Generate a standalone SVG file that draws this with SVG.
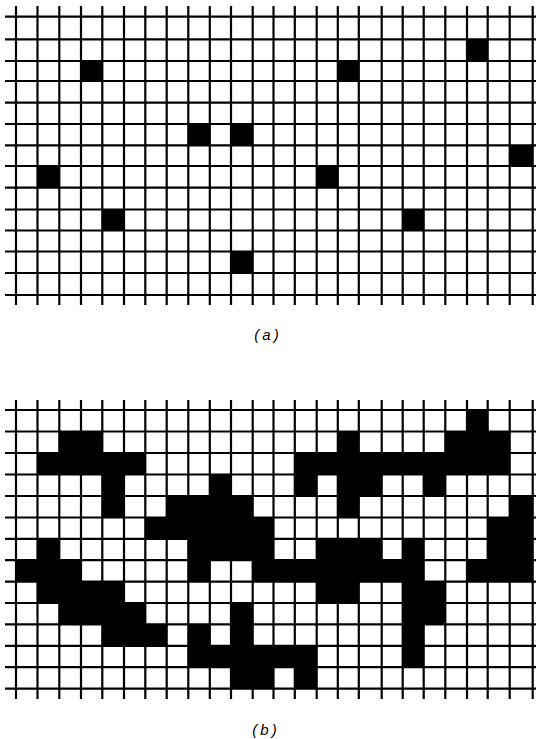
<svg xmlns="http://www.w3.org/2000/svg" width="536" height="739" viewBox="0 0 536 739">
<style>
.g line{stroke:#000;stroke-width:2.2}
.c{fill:#000}
.lbl{font-family:"Liberation Sans",Arial,sans-serif;font-style:italic;font-size:15px;fill:#000;text-anchor:middle;letter-spacing:3px}
</style>
<rect width="536" height="739" fill="#fff"/>
<defs>
<g id="vlines">
<line x1="16" y1="0" x2="16" y2="1"/>
</g>
</defs>

<g id="gridA">
<g id="cellsA" class="c">
<rect x="81" y="61" width="21.3" height="20"/>
<rect x="188.3" y="124" width="21.5" height="21.3"/>
<rect x="231" y="124" width="21.7" height="21.3"/>
<rect x="467" y="39.3" width="20.7" height="21.7"/>
<rect x="337.8" y="61" width="21" height="20"/>
<rect x="509.7" y="145.3" width="23" height="20.7"/>
<rect x="37.5" y="166" width="21.8" height="21.7"/>
<rect x="316.7" y="166" width="21.1" height="21.7"/>
<rect x="102.3" y="209.5" width="21.7" height="21"/>
<rect x="402.7" y="209.5" width="21" height="21"/>
<rect x="231" y="251.5" width="21.7" height="21.5"/>
</g>
<g id="linesA" class="g">
<line x1="5" y1="16.7" x2="536" y2="16.7"/>
<line x1="5" y1="39.3" x2="536" y2="39.3"/>
<line x1="5" y1="61" x2="536" y2="61"/>
<line x1="5" y1="81" x2="536" y2="81"/>
<line x1="5" y1="102.7" x2="536" y2="102.7"/>
<line x1="5" y1="124" x2="536" y2="124"/>
<line x1="5" y1="145.3" x2="536" y2="145.3"/>
<line x1="5" y1="166" x2="536" y2="166"/>
<line x1="5" y1="187.7" x2="536" y2="187.7"/>
<line x1="5" y1="209.5" x2="536" y2="209.5"/>
<line x1="5" y1="230.5" x2="536" y2="230.5"/>
<line x1="5" y1="251.5" x2="536" y2="251.5"/>
<line x1="5" y1="273" x2="536" y2="273"/>
<line x1="5" y1="295" x2="536" y2="295"/>
<line x1="16" y1="6" x2="16" y2="305"/>
<line x1="37.5" y1="6" x2="37.5" y2="305"/>
<line x1="59.3" y1="6" x2="59.3" y2="305"/>
<line x1="81" y1="6" x2="81" y2="305"/>
<line x1="102.3" y1="6" x2="102.3" y2="305"/>
<line x1="124" y1="6" x2="124" y2="305"/>
<line x1="145.3" y1="6" x2="145.3" y2="305"/>
<line x1="166.7" y1="6" x2="166.7" y2="305"/>
<line x1="188.3" y1="6" x2="188.3" y2="305"/>
<line x1="209.8" y1="6" x2="209.8" y2="305"/>
<line x1="231" y1="6" x2="231" y2="305"/>
<line x1="252.7" y1="6" x2="252.7" y2="305"/>
<line x1="273.5" y1="6" x2="273.5" y2="305"/>
<line x1="294.8" y1="6" x2="294.8" y2="305"/>
<line x1="316.7" y1="6" x2="316.7" y2="305"/>
<line x1="337.8" y1="6" x2="337.8" y2="305"/>
<line x1="358.8" y1="6" x2="358.8" y2="305"/>
<line x1="381.7" y1="6" x2="381.7" y2="305"/>
<line x1="402.7" y1="6" x2="402.7" y2="305"/>
<line x1="423.7" y1="6" x2="423.7" y2="305"/>
<line x1="445.3" y1="6" x2="445.3" y2="305"/>
<line x1="467" y1="6" x2="467" y2="305"/>
<line x1="487.7" y1="6" x2="487.7" y2="305"/>
<line x1="509.7" y1="6" x2="509.7" y2="305"/>
<line x1="532.7" y1="6" x2="532.7" y2="305"/>
</g>
<text id="labelA" class="lbl" x="268" y="340">(a)</text>
</g>

<g id="gridB">
<g id="cellsB" class="c">
<rect x="467" y="410" width="20.7" height="21.5"/>
<rect x="59.3" y="431.5" width="43" height="21.5"/>
<rect x="337.8" y="431.5" width="21" height="21.5"/>
<rect x="445.3" y="431.5" width="64.4" height="21.5"/>
<rect x="37.5" y="453" width="107.8" height="21.5"/>
<rect x="294.8" y="453" width="214.9" height="21.5"/>
<rect x="102.3" y="474.5" width="21.7" height="21.5"/>
<rect x="209.8" y="474.5" width="21.2" height="21.5"/>
<rect x="294.8" y="474.5" width="21.9" height="21.5"/>
<rect x="337.8" y="474.5" width="43.9" height="21.5"/>
<rect x="423.7" y="474.5" width="21.6" height="21.5"/>
<rect x="102.3" y="496" width="21.7" height="21.5"/>
<rect x="166.7" y="496" width="86" height="21.5"/>
<rect x="337.8" y="496" width="21" height="21.5"/>
<rect x="509.7" y="496" width="23" height="21.5"/>
<rect x="145.3" y="517.5" width="128.2" height="21.3"/>
<rect x="487.7" y="517.5" width="45" height="21.3"/>
<rect x="37.5" y="538.8" width="21.8" height="21.4"/>
<rect x="188.3" y="538.8" width="85.2" height="21.4"/>
<rect x="316.7" y="538.8" width="65" height="21.4"/>
<rect x="402.7" y="538.8" width="21" height="21.4"/>
<rect x="487.7" y="538.8" width="45" height="21.4"/>
<rect x="16" y="560.2" width="65" height="21.4"/>
<rect x="188.3" y="560.2" width="21.5" height="21.4"/>
<rect x="252.7" y="560.2" width="171" height="21.4"/>
<rect x="467" y="560.2" width="65.7" height="21.4"/>
<rect x="37.5" y="581.6" width="86.5" height="21.4"/>
<rect x="316.7" y="581.6" width="42.1" height="21.4"/>
<rect x="402.7" y="581.6" width="42.6" height="21.4"/>
<rect x="59.3" y="603" width="86" height="21.3"/>
<rect x="231" y="603" width="21.7" height="21.3"/>
<rect x="402.7" y="603" width="42.6" height="21.3"/>
<rect x="102.3" y="624.3" width="64.4" height="21.5"/>
<rect x="188.3" y="624.3" width="21.5" height="21.5"/>
<rect x="231" y="624.3" width="21.7" height="21.5"/>
<rect x="402.7" y="624.3" width="21" height="21.5"/>
<rect x="188.3" y="645.8" width="128.4" height="21.4"/>
<rect x="402.7" y="645.8" width="21" height="21.4"/>
<rect x="231" y="667.2" width="42.5" height="21.4"/>
<rect x="294.8" y="667.2" width="21.9" height="21.4"/>
</g>
<g id="linesB" class="g">
<line x1="5" y1="410" x2="536" y2="410"/>
<line x1="5" y1="431.5" x2="536" y2="431.5"/>
<line x1="5" y1="453" x2="536" y2="453"/>
<line x1="5" y1="474.5" x2="536" y2="474.5"/>
<line x1="5" y1="496" x2="536" y2="496"/>
<line x1="5" y1="517.5" x2="536" y2="517.5"/>
<line x1="5" y1="538.8" x2="536" y2="538.8"/>
<line x1="5" y1="560.2" x2="536" y2="560.2"/>
<line x1="5" y1="581.6" x2="536" y2="581.6"/>
<line x1="5" y1="603" x2="536" y2="603"/>
<line x1="5" y1="624.3" x2="536" y2="624.3"/>
<line x1="5" y1="645.8" x2="536" y2="645.8"/>
<line x1="5" y1="667.2" x2="536" y2="667.2"/>
<line x1="5" y1="688.6" x2="536" y2="688.6"/>
<line x1="16" y1="400" x2="16" y2="699"/>
<line x1="37.5" y1="400" x2="37.5" y2="699"/>
<line x1="59.3" y1="400" x2="59.3" y2="699"/>
<line x1="81" y1="400" x2="81" y2="699"/>
<line x1="102.3" y1="400" x2="102.3" y2="699"/>
<line x1="124" y1="400" x2="124" y2="699"/>
<line x1="145.3" y1="400" x2="145.3" y2="699"/>
<line x1="166.7" y1="400" x2="166.7" y2="699"/>
<line x1="188.3" y1="400" x2="188.3" y2="699"/>
<line x1="209.8" y1="400" x2="209.8" y2="699"/>
<line x1="231" y1="400" x2="231" y2="699"/>
<line x1="252.7" y1="400" x2="252.7" y2="699"/>
<line x1="273.5" y1="400" x2="273.5" y2="699"/>
<line x1="294.8" y1="400" x2="294.8" y2="699"/>
<line x1="316.7" y1="400" x2="316.7" y2="699"/>
<line x1="337.8" y1="400" x2="337.8" y2="699"/>
<line x1="358.8" y1="400" x2="358.8" y2="699"/>
<line x1="381.7" y1="400" x2="381.7" y2="699"/>
<line x1="402.7" y1="400" x2="402.7" y2="699"/>
<line x1="423.7" y1="400" x2="423.7" y2="699"/>
<line x1="445.3" y1="400" x2="445.3" y2="699"/>
<line x1="467" y1="400" x2="467" y2="699"/>
<line x1="487.7" y1="400" x2="487.7" y2="699"/>
<line x1="509.7" y1="400" x2="509.7" y2="699"/>
<line x1="532.7" y1="400" x2="532.7" y2="699"/>
</g>
<text id="labelB" class="lbl" x="266" y="735">(b)</text>
</g>
</svg>
